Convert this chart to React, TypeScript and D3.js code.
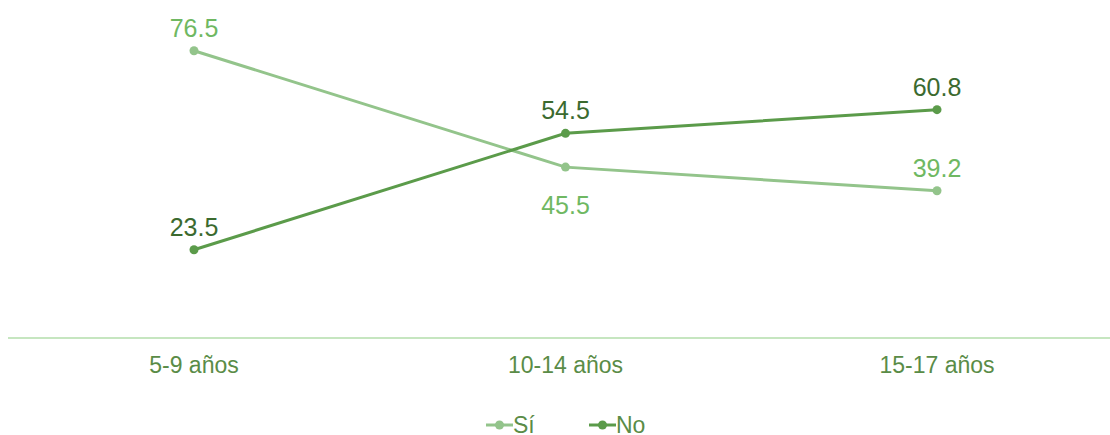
import React from "react";
import * as d3 from "d3";

const categories = ["5-9 años", "10-14 años", "15-17 años"];
const siValues = [76.5, 45.5, 39.2];
const noValues = [23.5, 54.5, 60.8];
const seriesNames = ["Sí", "No"];

const W = 1110;
const H = 435;
const FONT = "'Liberation Sans', Arial, sans-serif";

const SI_LINE = "#93c48b";
const SI_TEXT = "#6fb862";
const NO_LINE = "#5b9b4a";
const NO_TEXT = "#3b6a2f";
const AXIS_TEXT = "#5a8c47";
const AXIS_LINE = "#c6e6c0";

export default function App() {
  const x = d3.scalePoint<string>().domain(categories).range([194, 937]);
  const y = d3.scaleLinear().domain([0, 90]).range([338, 0]);

  const line = d3
    .line<number>()
    .x((_, i) => x(categories[i]) as number)
    .y((d) => y(d));

  const series = [
    { name: seriesNames[0], values: siValues, stroke: SI_LINE, text: SI_TEXT },
    { name: seriesNames[1], values: noValues, stroke: NO_LINE, text: NO_TEXT },
  ];

  // labels sit above their point, unless the other series sits just above it
  const labelY = (si: number, i: number) => {
    const v = series[si].values[i];
    const other = series[1 - si].values[i];
    const crowded = other > v && other - v < 15;
    return crowded ? y(v) + 47 : y(v) - 14;
  };

  return (
    <svg
      width={W}
      height={H}
      style={{ position: "absolute", left: 0, top: 0, fontFamily: FONT }}
    >
      <line x1={8} x2={1110} y1={y(0)} y2={y(0)} stroke={AXIS_LINE} strokeWidth={2} />
      {categories.map((c) => (
        <text
          key={c}
          x={x(c)}
          y={373}
          textAnchor="middle"
          fontSize={23}
          fill={AXIS_TEXT}
        >
          {c}
        </text>
      ))}
      {series.map((s, si) => (
        <g key={s.name}>
          <path d={line(s.values) || ""} fill="none" stroke={s.stroke} strokeWidth={3} />
          {s.values.map((v, i) => (
            <circle key={i} cx={x(categories[i])} cy={y(v)} r={4.5} fill={s.stroke} />
          ))}
          {s.values.map((v, i) => (
            <text
              key={"t" + i}
              x={x(categories[i])}
              y={labelY(si, i)}
              textAnchor="middle"
              fontSize={25}
              fill={s.text}
            >
              {v.toFixed(1)}
            </text>
          ))}
        </g>
      ))}
      {/* legend */}
      {series.map((s, si) => {
        const lx = si === 0 ? 486 : 589;
        const ly = 425;
        return (
          <g key={"lg" + s.name}>
            <line x1={lx} x2={lx + 27} y1={ly} y2={ly} stroke={s.stroke} strokeWidth={3} />
            <circle cx={lx + 13.5} cy={ly} r={4.5} fill={s.stroke} />
            <text x={lx + 27} y={433} fontSize={23} fill={AXIS_TEXT}>
              {s.name}
            </text>
          </g>
        );
      })}
    </svg>
  );
}
